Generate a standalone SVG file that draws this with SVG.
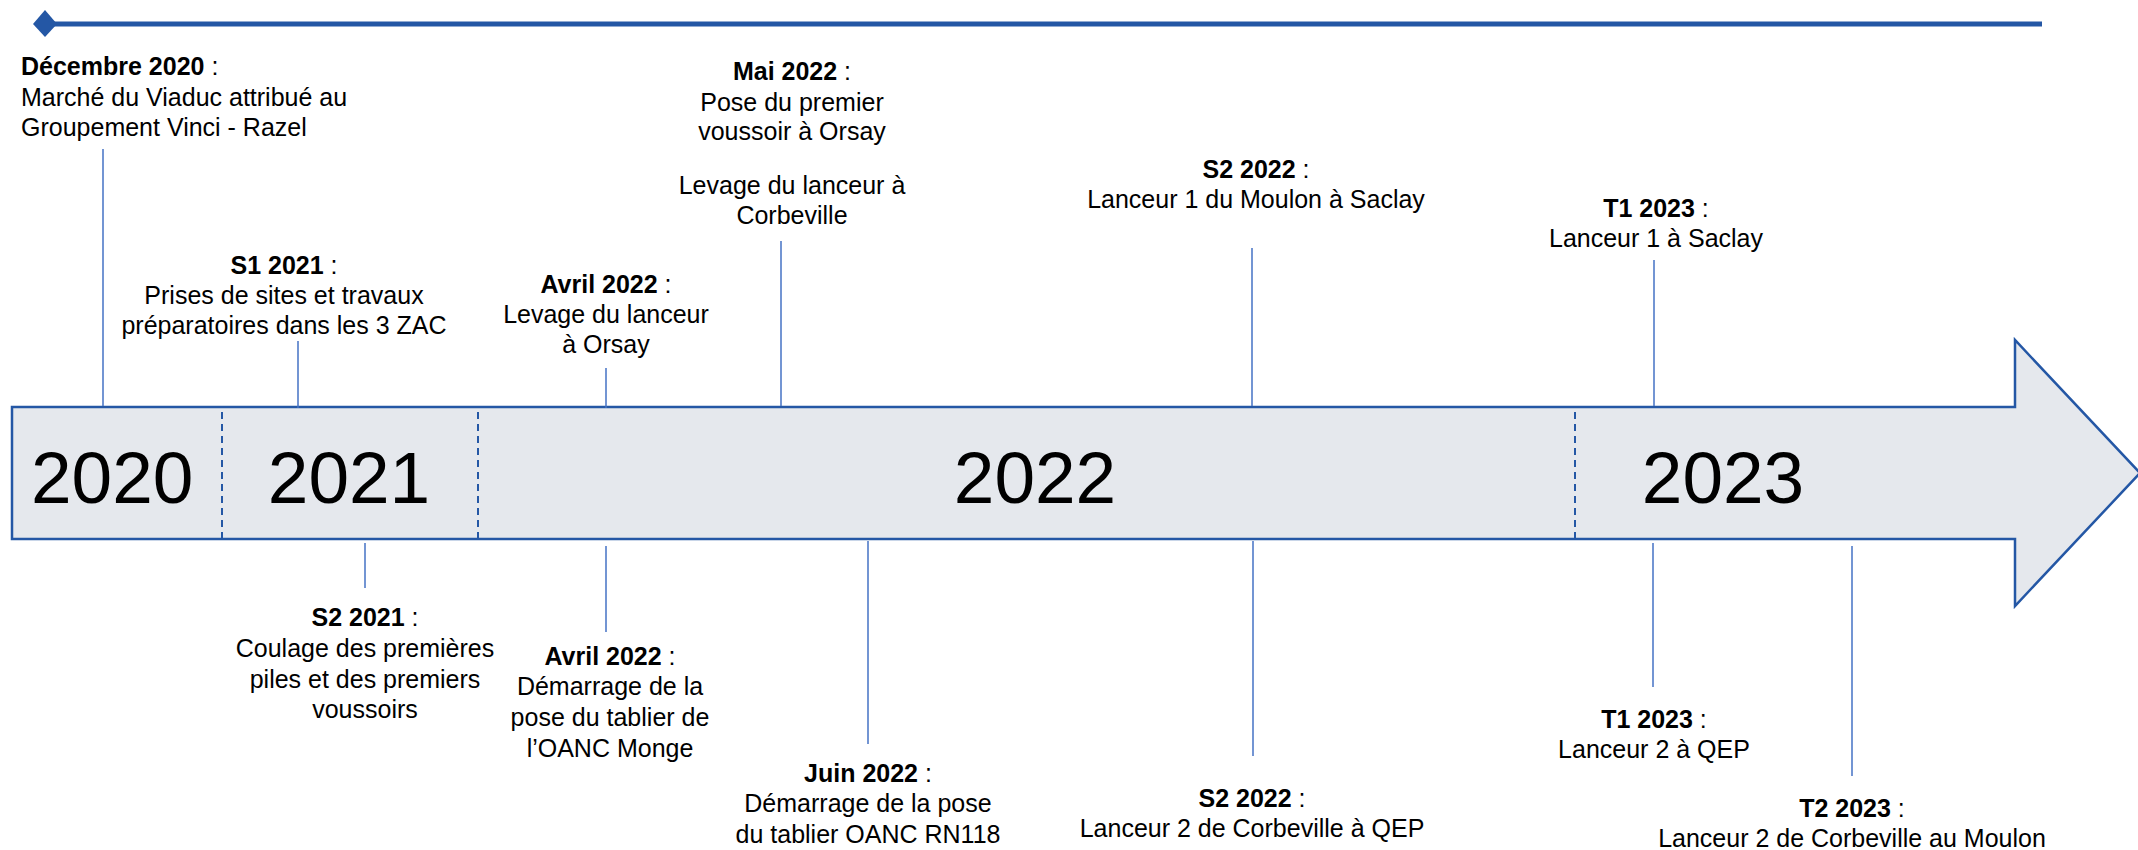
<svg xmlns="http://www.w3.org/2000/svg" width="2138" height="850" viewBox="0 0 2138 850">
<style>
text{font-family:"Liberation Sans",Arial,sans-serif;fill:#000}
.t{font-size:25px}
.b{font-weight:bold}
.c{text-anchor:middle}
.y{font-size:73px}
.con{stroke:#4472C4;stroke-width:1.5;fill:none}
.sep{stroke:#2457A5;stroke-width:2;stroke-dasharray:7 5;fill:none}
</style>
<rect width="2138" height="850" fill="#fff"/>
<g id="topline">
<line x1="45" y1="24" x2="2042" y2="24" stroke="#2457A5" stroke-width="5"/>
<polygon points="45,10 57,24 45,37 33,24" fill="#2457A5"/>
</g>
<g id="bar">
<polygon points="12,407 2015,407 2015,340 2140,473 2015,606 2015,539 12,539" fill="#E5E8ED" stroke="#2457A5" stroke-width="2.5"/>
<line class="sep" x1="222" y1="412" x2="222" y2="539"/>
<line class="sep" x1="478" y1="412" x2="478" y2="539"/>
<line class="sep" x1="1575" y1="412" x2="1575" y2="539"/>
<text class="y" x="31" y="503">2020</text>
<text class="y c" x="349" y="503">2021</text>
<text class="y c" x="1035" y="503">2022</text>
<text class="y c" x="1723" y="503">2023</text>
</g>
<g id="connectors">
<line class="con" x1="103" y1="149" x2="103" y2="406"/>
<line class="con" x1="298" y1="341" x2="298" y2="408"/>
<line class="con" x1="606" y1="368" x2="606" y2="408"/>
<line class="con" x1="781" y1="241" x2="781" y2="406"/>
<line class="con" x1="1252" y1="248" x2="1252" y2="406"/>
<line class="con" x1="1654" y1="260" x2="1654" y2="406"/>
<line class="con" x1="365" y1="543" x2="365" y2="588"/>
<line class="con" x1="606" y1="546" x2="606" y2="632"/>
<line class="con" x1="868" y1="541" x2="868" y2="744"/>
<line class="con" x1="1253" y1="541" x2="1253" y2="756"/>
<line class="con" x1="1653" y1="543" x2="1653" y2="687"/>
<line class="con" x1="1852" y1="546" x2="1852" y2="776"/>
</g>
<g id="dec2020" class="t">
<text x="21" y="75"><tspan class="b">Décembre 2020</tspan> :</text>
<text x="21" y="106">Marché du Viaduc attribué au</text>
<text x="21" y="136">Groupement Vinci - Razel</text>
</g>
<g id="s1-2021" class="t c">
<text x="284" y="274"><tspan class="b">S1 2021</tspan> :</text>
<text x="284" y="304">Prises de sites et travaux</text>
<text x="284" y="334">préparatoires dans les 3 ZAC</text>
</g>
<g id="avril2022-top" class="t c">
<text x="606" y="293"><tspan class="b">Avril 2022</tspan> :</text>
<text x="606" y="323">Levage du lanceur</text>
<text x="606" y="353">à Orsay</text>
</g>
<g id="mai2022" class="t c">
<text x="792" y="80"><tspan class="b">Mai 2022</tspan> :</text>
<text x="792" y="111">Pose du premier</text>
<text x="792" y="140">voussoir à Orsay</text>
<text x="792" y="194">Levage du lanceur à</text>
<text x="792" y="224">Corbeville</text>
</g>
<g id="s2-2022-top" class="t c">
<text x="1256" y="178"><tspan class="b">S2 2022</tspan> :</text>
<text x="1256" y="208">Lanceur 1 du Moulon à Saclay</text>
</g>
<g id="t1-2023-top" class="t c">
<text x="1656" y="217"><tspan class="b">T1 2023</tspan> :</text>
<text x="1656" y="247">Lanceur 1 à Saclay</text>
</g>
<g id="s2-2021" class="t c">
<text x="365" y="626"><tspan class="b">S2 2021</tspan> :</text>
<text x="365" y="657">Coulage des premières</text>
<text x="365" y="688">piles et des premiers</text>
<text x="365" y="718">voussoirs</text>
</g>
<g id="avril2022-bottom" class="t c">
<text x="610" y="665"><tspan class="b">Avril 2022</tspan> :</text>
<text x="610" y="695">Démarrage de la</text>
<text x="610" y="726">pose du tablier de</text>
<text x="610" y="757">l’OANC Monge</text>
</g>
<g id="juin2022" class="t c">
<text x="868" y="782"><tspan class="b">Juin 2022</tspan> :</text>
<text x="868" y="812">Démarrage de la pose</text>
<text x="868" y="843">du tablier OANC RN118</text>
</g>
<g id="s2-2022-bottom" class="t c">
<text x="1252" y="807"><tspan class="b">S2 2022</tspan> :</text>
<text x="1252" y="837">Lanceur 2 de Corbeville à QEP</text>
</g>
<g id="t1-2023-bottom" class="t c">
<text x="1654" y="728"><tspan class="b">T1 2023</tspan> :</text>
<text x="1654" y="758">Lanceur 2 à QEP</text>
</g>
<g id="t2-2023" class="t c">
<text x="1852" y="817"><tspan class="b">T2 2023</tspan> :</text>
<text x="1852" y="847">Lanceur 2 de Corbeville au Moulon</text>
</g>
</svg>
